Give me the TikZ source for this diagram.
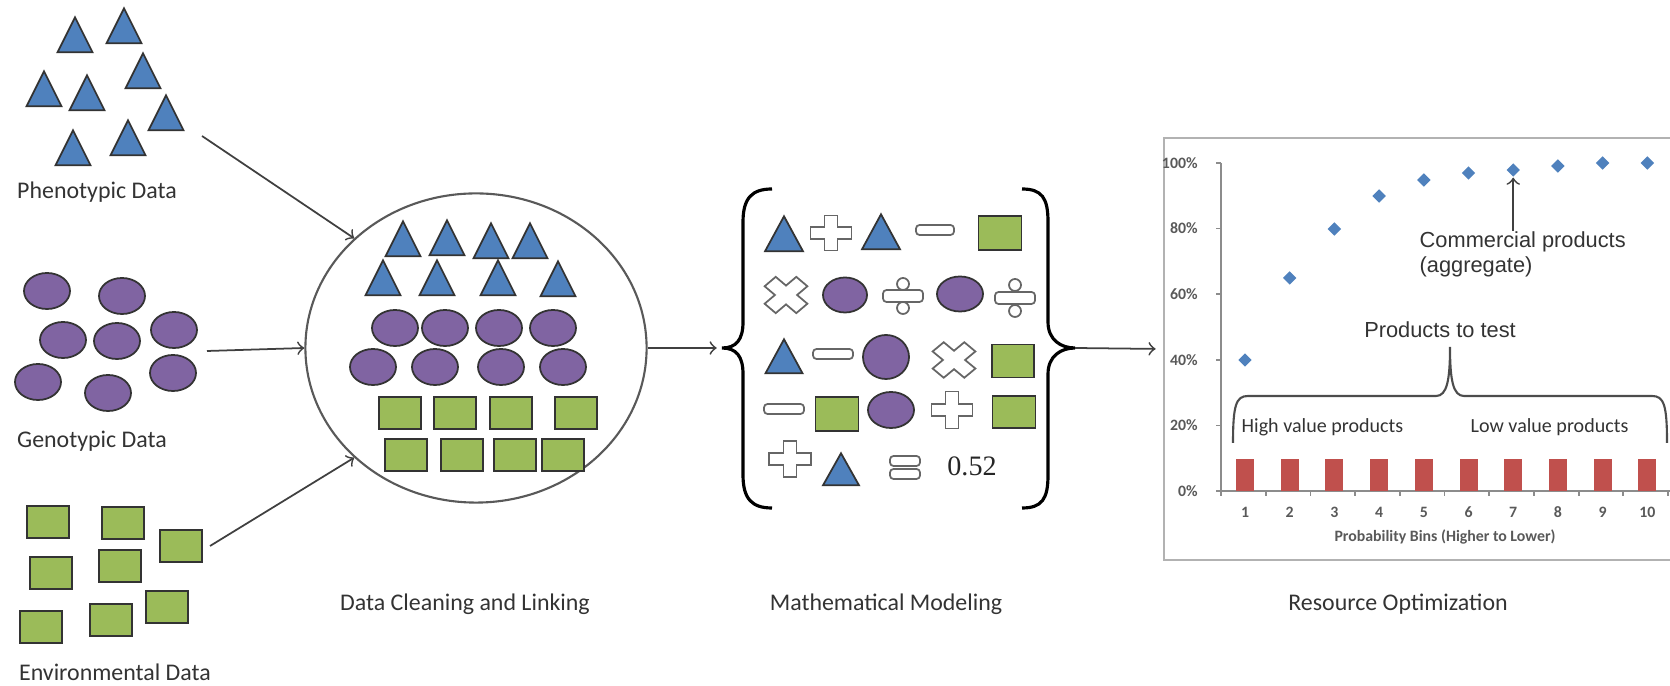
\documentclass[tikz,border=0pt]{standalone}
\usepackage{fontspec}
\setmainfont{Carlito}
\newfontfamily\arialfont{Liberation Sans}
\newfontfamily\numfont{Liberation Serif}
\usepackage{xcolor}
\usepackage{tikz}
\usetikzlibrary{shapes.geometric, arrows}

\definecolor{triblue}{HTML}{4F81BD}
\definecolor{ovpurple}{HTML}{8064A2}
\definecolor{boxgreen}{HTML}{9BBB59}
\definecolor{barred}{HTML}{C0504D}

\begin{document}
\begin{tikzpicture}[x=0.01cm, y=-0.01cm]
\tikzstyle{pheno} = [isosceles triangle, isosceles triangle stretches, shape border rotate=90, minimum width=0.35cm, minimum height=0.35cm, inner sep=0pt, anchor=apex, draw=black!80, fill=triblue, line width=0.5pt]
\tikzstyle{geno} = [ellipse, minimum width=0.46cm, minimum height=0.36cm, inner sep=0pt, draw=black!80, fill=ovpurple, line width=0.5pt]
\tikzstyle{enviro} = [rectangle, minimum width=0.42cm, minimum height=0.32cm, inner sep=0pt, draw=black!80, fill=boxgreen, line width=0.5pt]
\tikzstyle{op} = [draw=black!60, fill=white, line width=0.5pt]
\tikzstyle{opbar} = [rectangle, rounded corners=1pt, minimum width=0.38cm, minimum height=0.10cm, inner sep=0pt, draw=black!60, fill=white, line width=0.5pt]
\tikzstyle{opdot} = [circle, minimum size=0.12cm, inner sep=0pt, draw=black!60, fill=white, line width=0.5pt]
\tikzstyle{datatext} = [text=black!80, font=\fontsize{6.8}{8}\selectfont]
\tikzstyle{ticktext} = [text=black!65, font=\fontsize{4.5}{5}\selectfont\bfseries]
\tikzstyle{bintext} = [text=black!80, font=\fontsize{5.7}{7}\selectfont, inner sep=0pt]
\tikzstyle{note} = [text=black!80, font=\arialfont\fontsize{6.2}{7.2}\selectfont, inner sep=0pt]
\tikzstyle{bin} = [rectangle, minimum width=0.18cm, minimum height=0.32cm, inner sep=0pt, fill=barred]
\tikzstyle{point} = [diamond, minimum width=0.14cm, minimum height=0.14cm, inner sep=0pt, fill=triblue]
\tikzstyle{axis} = [draw=black!45, line width=0.5pt]
\tikzstyle{bracket} = [draw=black, line width=0.9pt]
\tikzstyle{arrow} = [draw=black!75, line width=0.5pt, ->, >=to]

\useasboundingbox (0,0) rectangle (1670,686);

% phenotypic data
\node (p1) [pheno] at (75,15) {};
\node (p2) [pheno] at (124,6) {};
\node (p3) [pheno] at (143,51) {};
\node (p4) [pheno] at (44,69) {};
\node (p5) [pheno] at (87,73) {};
\node (p6) [pheno] at (166,93) {};
\node (p7) [pheno] at (73,128) {};
\node (p8) [pheno] at (128,118) {};
\node (phenotext) [datatext] at (97,192) {Phenotypic Data};

% genotypic data
\node (g1) [geno] at (47,291) {};
\node (g2) [geno] at (122,296) {};
\node (g3) [geno] at (63,340) {};
\node (g4) [geno] at (117,341) {};
\node (g5) [geno] at (174,330) {};
\node (g6) [geno] at (38,382) {};
\node (g7) [geno] at (108,393) {};
\node (g8) [geno] at (173,373) {};
\node (genotext) [datatext] at (92,441) {Genotypic Data};

% environmental data
\node (e1) [enviro] at (48,522) {};
\node (e2) [enviro] at (123,523) {};
\node (e3) [enviro] at (181,546) {};
\node (e4) [enviro] at (51,573) {};
\node (e5) [enviro] at (120,566) {};
\node (e6) [enviro] at (167,607) {};
\node (e7) [enviro] at (41,627) {};
\node (e8) [enviro] at (111,620) {};
\node (envirotext) [datatext] at (115,672) {Environmental Data};

% cleaning and linking
\node (clean) [ellipse, draw=black!65, line width=0.6pt, minimum width=3.41cm, minimum height=3.09cm, inner sep=0pt] at (476,348) {};
\node (ct1) [pheno] at (403,219) {};
\node (ct2) [pheno] at (447,218) {};
\node (ct3) [pheno] at (491,221) {};
\node (ct4) [pheno] at (530,221) {};
\node (ct5) [pheno] at (383,258) {};
\node (ct6) [pheno] at (437,258) {};
\node (ct7) [pheno] at (498,258) {};
\node (ct8) [pheno] at (558,259) {};
\node (co1) [geno] at (395,328) {};
\node (co2) [geno] at (445,328) {};
\node (co3) [geno] at (499,328) {};
\node (co4) [geno] at (553,328) {};
\node (co5) [geno] at (373,367) {};
\node (co6) [geno] at (435,367) {};
\node (co7) [geno] at (501,367) {};
\node (co8) [geno] at (563,367) {};
\node (cs1) [enviro] at (400,413) {};
\node (cs2) [enviro] at (455,413) {};
\node (cs3) [enviro] at (511,413) {};
\node (cs4) [enviro] at (576,413) {};
\node (cs5) [enviro] at (406,455) {};
\node (cs6) [enviro] at (462,455) {};
\node (cs7) [enviro] at (515,455) {};
\node (cs8) [enviro] at (563,455) {};
\node (cleantext) [datatext] at (465,604) {Data Cleaning and Linking};

\coordinate (phenoout) at (202,136);
\coordinate (genoout) at (207,351);
\coordinate (enviroout) at (210,546);
\draw [arrow] (phenoout) -- (clean.138);
\draw [arrow] (genoout) -- (clean.west);
\draw [arrow] (enviroout) -- (clean.222);

% mathematical modeling
\coordinate (lbrace) at (722,348);
\coordinate (rbrace) at (1075,348);
\draw [bracket] (772,189) .. controls (752,189) and (743,198) .. (743,222) -- (743,322) .. controls (743,340) and (736,348) .. (722,348) .. controls (736,348) and (743,356) .. (743,374) -- (743,475) .. controls (743,499) and (752,508) .. (772,508);
\draw [bracket] (1022,189) .. controls (1042,189) and (1048,198) .. (1048,222) -- (1048,322) .. controls (1048,340) and (1061,348) .. (1075,348) .. controls (1061,348) and (1048,356) .. (1048,374) -- (1048,475) .. controls (1048,499) and (1042,508) .. (1022,508);

\node (mt1) [pheno, minimum width=0.38cm] at (784,214) {};
\draw [op, shift={(831,233)}] (-6.5,-17.5) -- (6.5,-17.5) -- (6.5,-6) -- (20.5,-6) -- (20.5,6) -- (6.5,6) -- (6.5,17.5) -- (-6.5,17.5) -- (-6.5,6) -- (-20.5,6) -- (-20.5,-6) -- (-6.5,-6) -- cycle;
\node (mt2) [pheno, minimum width=0.38cm] at (881,212) {};
\node (mm1) [opbar] at (935,230) {};
\node (ms1) [enviro, minimum width=0.43cm, minimum height=0.34cm] at (1000,233) {};

\draw [op, shift={(786,295)}, xscale=1.12, yscale=0.95, rotate=45] (-7,-20) -- (7,-20) -- (7,-7) -- (20,-7) -- (20,7) -- (7,7) -- (7,20) -- (-7,20) -- (-7,7) -- (-20,7) -- (-20,-7) -- (-7,-7) -- cycle;
\node (mo1) [geno, minimum width=0.44cm, minimum height=0.35cm] at (845,295) {};
\node (md1) [opbar, minimum width=0.40cm, minimum height=0.12cm] at (903,296) {};
\node (md1a) [opdot] at (903,284) {};
\node (md1b) [opdot] at (903,308) {};
\node (mo2) [geno, minimum height=0.35cm] at (960,294) {};
\node (md2) [opbar, minimum width=0.40cm, minimum height=0.12cm] at (1015,298) {};
\node (md2a) [opdot] at (1015,285) {};
\node (md2b) [opdot] at (1015,311) {};

\node (mt3) [pheno, minimum width=0.37cm, minimum height=0.34cm] at (784,337) {};
\node (mm2) [opbar, minimum width=0.40cm] at (833,354) {};
\node (mo3) [geno, minimum height=0.44cm] at (886,357) {};
\draw [op, shift={(954,360)}, xscale=1.12, yscale=0.93, rotate=45] (-7,-20) -- (7,-20) -- (7,-7) -- (20,-7) -- (20,7) -- (7,7) -- (7,20) -- (-7,20) -- (-7,7) -- (-20,7) -- (-20,-7) -- (-7,-7) -- cycle;
\node (ms2) [enviro, minimum height=0.33cm] at (1013,361) {};

\node (mm3) [opbar, minimum width=0.40cm] at (784,409) {};
\node (ms3) [enviro, minimum width=0.43cm, minimum height=0.34cm] at (837,414) {};
\node (mo4) [geno] at (891,410) {};
\draw [op, shift={(952,410)}] (-6.5,-18.5) -- (6.5,-18.5) -- (6.5,-6) -- (20.5,-6) -- (20.5,6) -- (6.5,6) -- (6.5,18.5) -- (-6.5,18.5) -- (-6.5,6) -- (-20.5,6) -- (-20.5,-6) -- (-6.5,-6) -- cycle;
\node (ms4) [enviro, minimum width=0.43cm] at (1014,412) {};

\draw [op, shift={(790,459)}] (-6.5,-18) -- (6.5,-18) -- (6.5,-6) -- (21,-6) -- (21,6) -- (6.5,6) -- (6.5,18) -- (-6.5,18) -- (-6.5,6) -- (-21,6) -- (-21,-6) -- (-6.5,-6) -- cycle;
\node (mt4) [pheno, minimum width=0.36cm, minimum height=0.32cm] at (841,451) {};
\node (me1) [opbar, minimum width=0.30cm] at (905,461) {};
\node (me2) [opbar, minimum width=0.30cm] at (905,474) {};
\node (result) [text=black!85, font=\numfont\fontsize{8}{9}\selectfont] at (972,466) {0.52};
\node (modeltext) [datatext] at (886,604) {Mathematical Modeling};

\draw [arrow, shorten >=1.5pt] (clean.east) -- (lbrace);

% resource optimization
\node (chart) [draw=black!30, line width=0.7pt, minimum width=5.2cm, minimum height=4.22cm, inner sep=0pt] at (1424,349) {};
\draw [arrow, shorten >=2pt] (rbrace) -- (chart.west);

\draw [axis] (1221,163) -- (1221,491) -- (1672,491);
\draw [axis] (1216,163) -- (1221,163) (1216,228.6) -- (1221,228.6) (1216,294.2) -- (1221,294.2) (1216,359.8) -- (1221,359.8) (1216,425.4) -- (1221,425.4) (1216,491) -- (1221,491);
\draw [axis] (1221,491) -- (1221,496) (1265.7,491) -- (1265.7,496) (1310.4,491) -- (1310.4,496) (1355.1,491) -- (1355.1,496) (1399.8,491) -- (1399.8,496) (1444.5,491) -- (1444.5,496) (1489.2,491) -- (1489.2,496) (1533.9,491) -- (1533.9,496) (1578.6,491) -- (1578.6,496) (1623.3,491) -- (1623.3,496) (1668,491) -- (1668,496);

\node (y100) [ticktext, anchor=east] at (1210,163) {100\%};
\node (y80) [ticktext, anchor=east] at (1210,228.6) {80\%};
\node (y60) [ticktext, anchor=east] at (1210,294.2) {60\%};
\node (y40) [ticktext, anchor=east] at (1210,359.8) {40\%};
\node (y20) [ticktext, anchor=east] at (1210,425.4) {20\%};
\node (y0) [ticktext, anchor=east] at (1210,491) {0\%};

\node (bar1) [bin] at (1245,475) {};
\node (bar2) [bin] at (1289.7,475) {};
\node (bar3) [bin] at (1334.4,475) {};
\node (bar4) [bin] at (1379.1,475) {};
\node (bar5) [bin] at (1423.8,475) {};
\node (bar6) [bin] at (1468.5,475) {};
\node (bar7) [bin] at (1513.2,475) {};
\node (bar8) [bin] at (1557.9,475) {};
\node (bar9) [bin] at (1602.6,475) {};
\node (bar10) [bin] at (1647.3,475) {};

\node (pt1) [point] at (1245,360) {};
\node (pt2) [point] at (1289.7,278) {};
\node (pt3) [point] at (1334.4,229) {};
\node (pt4) [point] at (1379.1,196) {};
\node (pt5) [point] at (1423.8,180) {};
\node (pt6) [point] at (1468.5,173) {};
\node (pt7) [point] at (1513.2,170) {};
\node (pt8) [point] at (1557.9,166) {};
\node (pt9) [point] at (1602.6,163) {};
\node (pt10) [point] at (1647.3,163) {};

\node (x1) [ticktext] at (1245,512) {1};
\node (x2) [ticktext] at (1289.7,512) {2};
\node (x3) [ticktext] at (1334.4,512) {3};
\node (x4) [ticktext] at (1379.1,512) {4};
\node (x5) [ticktext] at (1423.8,512) {5};
\node (x6) [ticktext] at (1468.5,512) {6};
\node (x7) [ticktext] at (1513.2,512) {7};
\node (x8) [ticktext] at (1557.9,512) {8};
\node (x9) [ticktext] at (1602.6,512) {9};
\node (x10) [ticktext] at (1647.3,512) {10};
\node (xtitle) [ticktext] at (1445,537) {Probability Bins (Higher to Lower)};

\node (comm) [note, anchor=north west, align=left] at (1419,231) {Commercial products\\(aggregate)};
\draw [arrow] (comm.north -| pt7) -- (pt7.south);

\node (totest) [note] at (1440,330) {Products to test};
\draw [draw=black!70, line width=0.6pt] (1233,443) .. controls (1233,405) and (1236,396) .. (1248,396) -- (1436,396) .. controls (1447,396) and (1450,380) .. (1450,347) .. controls (1450,380) and (1453,396) .. (1464,396) -- (1652,396) .. controls (1664,396) and (1667,405) .. (1667,443);
\node (high) [bintext, anchor=west] at (1241,427) {High value products};
\node (low) [bintext, anchor=west] at (1470,427) {Low value products};
\node (opttext) [datatext] at (1398,604) {Resource Optimization};
\end{tikzpicture}
\end{document}
